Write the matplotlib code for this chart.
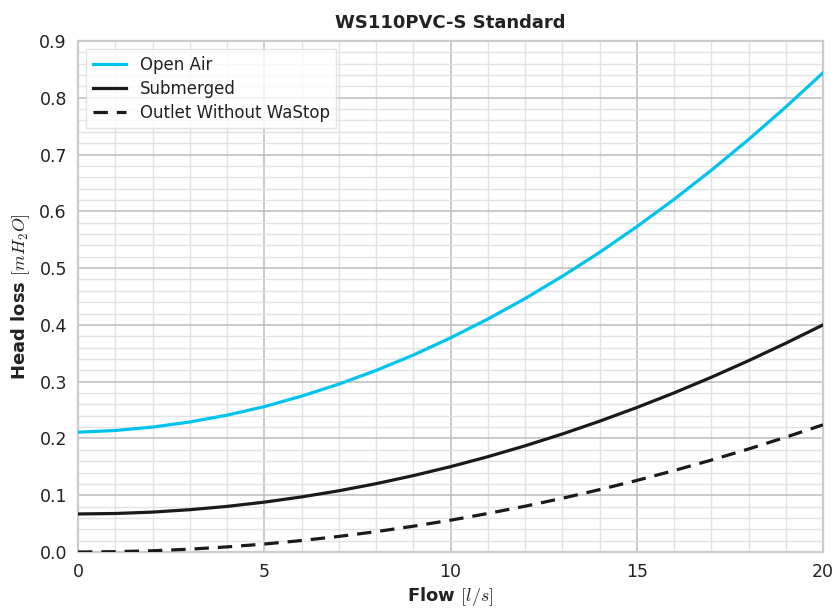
import matplotlib
matplotlib.use("Agg")
import matplotlib.pyplot as plt
from matplotlib.ticker import MultipleLocator

plt.rcParams['font.family'] = ['DejaVu Sans']
plt.rcParams['mathtext.fontset'] = 'cm'

flow = list(range(0, 21))
open_air = [0.211, 0.214, 0.220, 0.229, 0.241, 0.256, 0.2745, 0.2956, 0.3197, 0.3468,
            0.3771, 0.4102, 0.4463, 0.4855, 0.5276, 0.5729, 0.6210, 0.6722, 0.7264,
            0.7837, 0.8440]
submerged = [0.067, 0.0678, 0.0703, 0.0745, 0.0803, 0.0878, 0.0970, 0.1078, 0.1203,
             0.1345, 0.1503, 0.1678, 0.1870, 0.2078, 0.2303, 0.2544, 0.2802, 0.3077,
             0.3369, 0.3677, 0.4000]
outlet = [0.0, 0.0006, 0.0022, 0.0050, 0.0090, 0.0140, 0.0202, 0.0274, 0.0358, 0.0454,
          0.0560, 0.0678, 0.0806, 0.0946, 0.1098, 0.1260, 0.1434, 0.1618, 0.1814,
          0.2022, 0.2240]

fig = plt.figure(figsize=(8.36, 6.10), dpi=100)
ax = fig.add_axes([78/836, 58/610, 745/836, 511/610])

txt = '#222222'
ax.plot(flow, open_air, color='#00c3ef', lw=2.3, label='Open Air', zorder=3)
ax.plot(flow, submerged, color='#1a1a1a', lw=2.3, label='Submerged', zorder=3)
ax.plot(flow, outlet, color='#1a1a1a', lw=2.3, dashes=(4.5, 2.8), label='Outlet Without WaStop', zorder=3)

ax.set_xlim(0, 20)
ax.set_ylim(0, 0.9)
ax.xaxis.set_major_locator(MultipleLocator(5))
ax.xaxis.set_minor_locator(MultipleLocator(1))
ax.yaxis.set_major_locator(MultipleLocator(0.1))
ax.yaxis.set_minor_locator(MultipleLocator(0.02))
ax.set_yticklabels([f'{v:.1f}' for v in ax.get_yticks()])
ax.grid(which='major', color='#bdbdbd', lw=1.1)
ax.grid(which='minor', color='#e2e2e2', lw=1.0)
ax.set_axisbelow(True)
ax.tick_params(which='both', length=0, labelsize=12.5, colors=txt, pad=8)
for lab in ax.get_xticklabels() + ax.get_yticklabels():
    lab.set_fontweight('medium')
for s in ax.spines.values():
    s.set_color('#cccccc')
    s.set_linewidth(1.6)

ax.set_title('WS110PVC-S Standard', fontsize=13, color=txt, fontweight='semibold', pad=9)
ax.set_xlabel(r'Flow $[l/s]$', fontsize=13, color=txt, fontweight='bold', labelpad=3)
ax.set_ylabel(r'Head loss $[mH_2O]$', fontsize=13, color=txt, fontweight='bold', labelpad=5)

leg = ax.legend(loc='upper left', fontsize=12, frameon=True, fancybox=False,
                borderaxespad=0.5, handlelength=2.0, labelspacing=0.35, labelcolor=txt)
leg.get_frame().set_edgecolor('#dddddd')
leg.get_frame().set_linewidth(1.0)

fig.savefig('out.png', dpi=100)
